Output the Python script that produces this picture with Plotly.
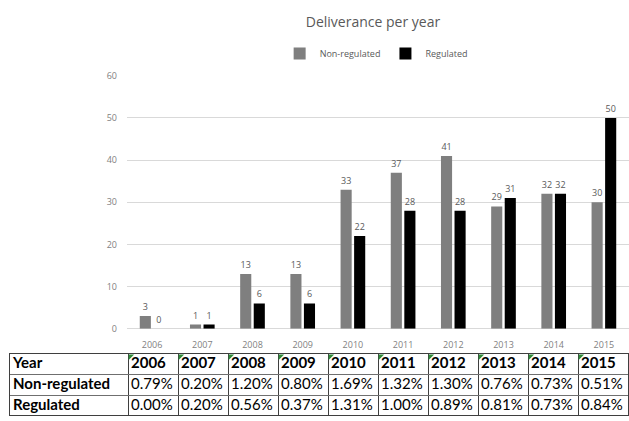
import plotly.graph_objects as go

years = ["2006", "2007", "2008", "2009", "2010", "2011", "2012", "2013", "2014", "2015"]
non_regulated = [3, 1, 13, 13, 33, 37, 41, 29, 32, 30]
regulated = [0, 1, 6, 6, 22, 28, 28, 31, 32, 50]
non_reg_pct = ["0.79%", "0.20%", "1.20%", "0.80%", "1.69%", "1.32%", "1.30%", "0.76%", "0.73%", "0.51%"]
reg_pct = ["0.00%", "0.20%", "0.56%", "0.37%", "1.31%", "1.00%", "0.89%", "0.81%", "0.73%", "0.84%"]
row_labels = ["Year", "Non-regulated", "Regulated"]

W, H = 629, 421
gray_text = "#595959"
tick_gray = "#7f7f7f"

# table layout (in pixels)
col_widths = [118] + [50] * len(years)
row_heights = [21, 22, 22]
col_edges = [0]
for w in col_widths:
    col_edges.append(col_edges[-1] + w)
row_edges = [0]
for h in row_heights:
    row_edges.append(row_edges[-1] + h)
table_left, table_top = 10, 358

fig = go.Figure()
fig.add_trace(go.Bar(
    x=years, y=non_regulated, name="Non-regulated",
    marker=dict(color="#7f7f7f", line=dict(width=0)),
    text=[str(v) for v in non_regulated], textposition="outside",
    textfont=dict(size=9, color=gray_text), cliponaxis=False,
))
fig.add_trace(go.Bar(
    x=years, y=regulated, name="Regulated",
    marker=dict(color="#000000", line=dict(width=0)),
    text=[str(v) for v in regulated], textposition="outside",
    textfont=dict(size=9, color=gray_text), cliponaxis=False,
))

# table text
table_rows = [
    [row_labels[0]] + years,
    [row_labels[1]] + non_reg_pct,
    [row_labels[2]] + reg_pct,
]
tx, ty, tt = [], [], []
for r, row in enumerate(table_rows):
    for c, val in enumerate(row):
        bold = (r == 0) or (c == 0)
        tx.append(col_edges[c] + 3)
        ty.append((row_edges[r] + row_edges[r + 1]) / 2)
        tt.append("<b>%s</b>" % val if bold else val)
fig.add_trace(go.Scatter(
    x=tx, y=ty, text=tt, mode="text", textposition="middle right",
    textfont=dict(family="Lato", size=15, color="#000000"),
    xaxis="x2", yaxis="y2", showlegend=False, hoverinfo="skip", cliponaxis=False,
))
# small green corner indicators on year header cells
fig.add_trace(go.Scatter(
    x=[col_edges[c] + 2.5 for c in range(1, len(col_edges) - 1)],
    y=[2.5] * len(years), mode="markers",
    marker=dict(symbol="triangle-nw", size=6, color="#2e8b3a", line=dict(width=0)),
    xaxis="x2", yaxis="y2", showlegend=False, hoverinfo="skip",
))

fig.update_layout(
    width=W, height=H,
    margin=dict(l=0, r=0, t=0, b=0),
    paper_bgcolor="white", plot_bgcolor="white",
    font=dict(family="Open Sans", color=gray_text),
    title=dict(text="Deliverance per year", x=0.593, xanchor="center",
               y=1 - 22 / H, yanchor="middle",
               font=dict(size=14, color=gray_text)),
    legend=dict(orientation="h", x=0.598, xanchor="center", y=1 - 48 / H, yanchor="middle",
                font=dict(size=9, color=gray_text), traceorder="normal"),
    barmode="group", bargap=0.46, bargroupgap=0.18,
    xaxis=dict(domain=[127 / W, 1.0], showgrid=False, showline=False, ticks="",
               tickfont=dict(size=9, color=tick_gray), type="category",
               ticklabelstandoff=9),
    yaxis=dict(domain=[1 - 332 / H, 1 - 71 / H], range=[0, 60], dtick=10,
               showgrid=True, gridcolor="#d9d9d9", gridwidth=1, zeroline=True,
               zerolinecolor="#d9d9d9", zerolinewidth=1, showline=False,
               tickfont=dict(size=9, color=tick_gray), ticklabelstandoff=9),
    xaxis2=dict(domain=[table_left / W, (table_left + col_edges[-1]) / W],
                range=[0, col_edges[-1]], tickvals=col_edges, showticklabels=False,
                showgrid=True, gridcolor="#3f3f3f", gridwidth=1, zeroline=False,
                showline=True, mirror=True, linecolor="#3f3f3f", linewidth=1,
                ticks="", anchor="y2", fixedrange=True),
    yaxis2=dict(domain=[0, 1 - table_top / H],
                range=[(H - table_top), 0], tickvals=row_edges, showticklabels=False,
                showgrid=True, gridcolor="#6f6f6f", gridwidth=1, zeroline=False,
                showline=True, mirror=True, linecolor="#3f3f3f", linewidth=1,
                ticks="", anchor="x2", fixedrange=True),
)

fig.write_html("out.html")
